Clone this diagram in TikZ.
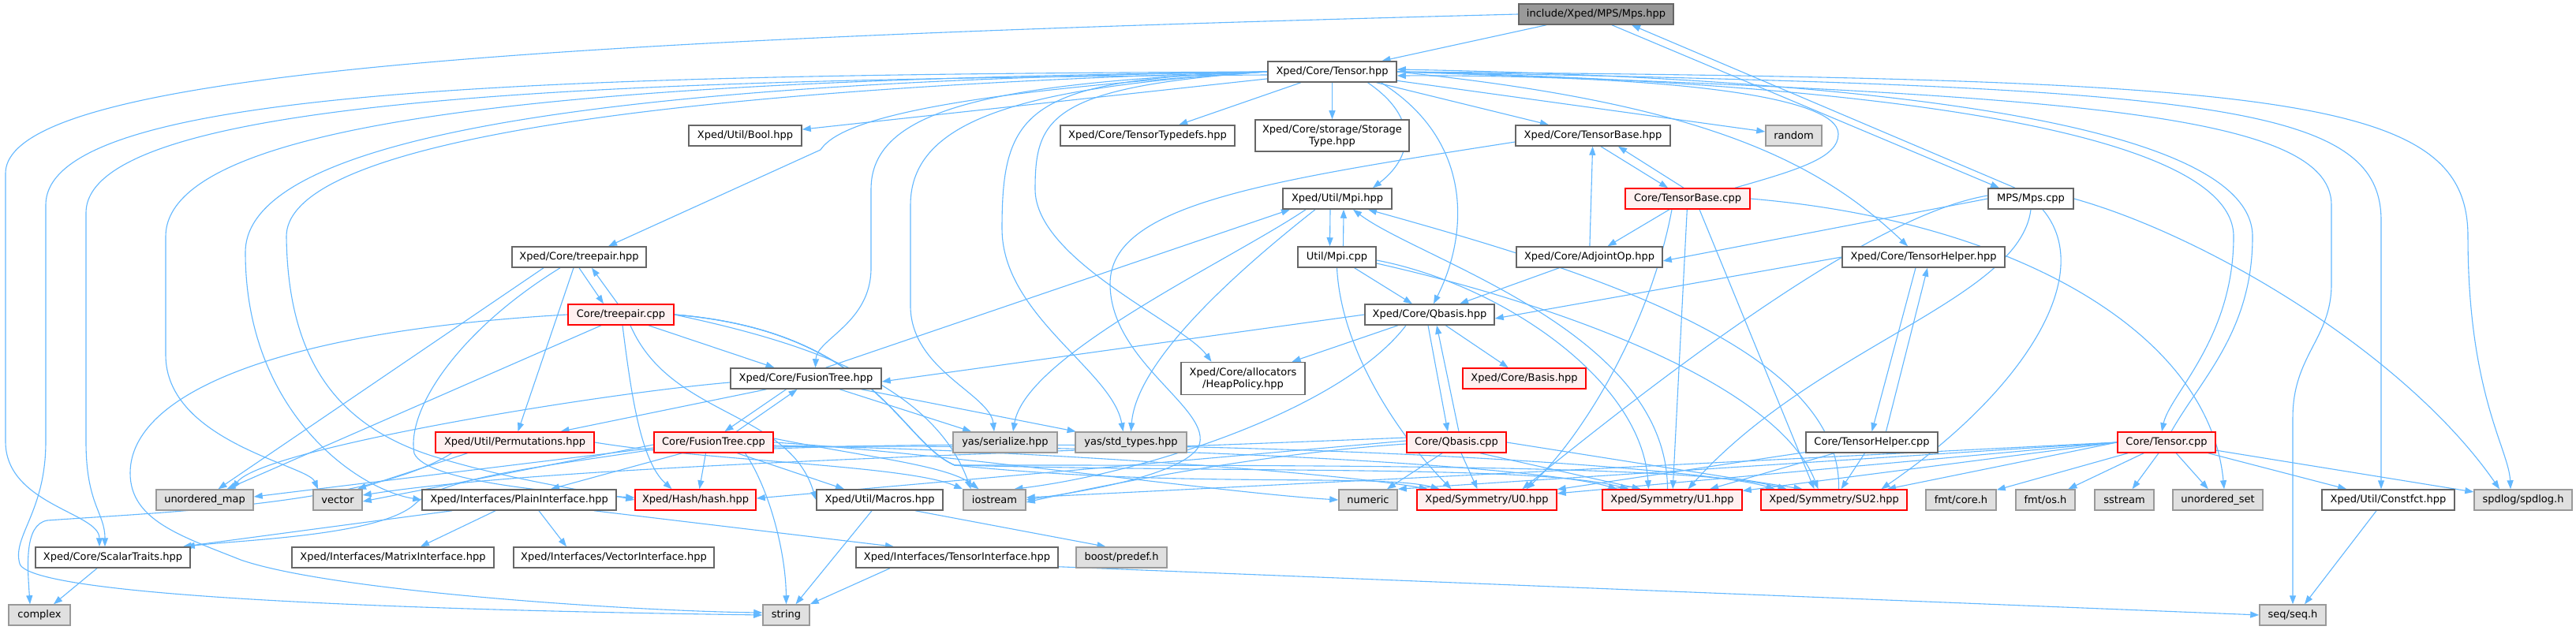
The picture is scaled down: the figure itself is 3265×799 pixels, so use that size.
\documentclass[tikz,border=0pt]{standalone}
\usepackage{fontspec}
\setmainfont{DejaVu Sans}
\usetikzlibrary{arrows.meta,backgrounds}
\definecolor{edgeblue}{HTML}{63B8FF}
\definecolor{boxline}{HTML}{666666}
\definecolor{sysline}{HTML}{999999}
\definecolor{sysfill}{HTML}{E0E0E0}
\definecolor{rootfill}{HTML}{999999}
\definecolor{redfill}{HTML}{FFF0F0}
\begin{document}
\begin{tikzpicture}[x=1pt,y=-1pt,font=\fontsize{13}{15}\selectfont,
  file/.style={draw=boxline,line width=1.5pt,fill=white,text=black,minimum height=26pt,inner sep=2pt},
  root/.style={file,fill=rootfill},
  sys/.style={file,draw=sysline,fill=sysfill},
  trunc/.style={file,draw=red,fill=redfill},
  dep/.style={draw=edgeblue,line width=1.1pt,-{Triangle[length=11pt,width=8pt]}}]
\useasboundingbox (0,0) rectangle (3265,799);
\node[root, minimum width=196pt] (mpsh) at (2023,18) {include/Xped/MPS/Mps.hpp};
\node[file, minimum width=163pt] (tensorh) at (1688.5,91) {Xped/Core/Tensor.hpp};
\node[file, minimum width=143pt] (boolh) at (944.5,172) {Xped/Util/Bool.hpp};
\node[file, minimum width=221pt] (typedefsh) at (1454.5,172) {Xped/Core/TensorTypedefs.hpp};
\node[file, minimum width=195pt, minimum height=40pt, align=center] (storageh) at (1688.5,172) {Xped/Core/storage/Storage\\Type.hpp};
\node[file, minimum width=196pt] (tbaseh) at (2019,172) {Xped/Core/TensorBase.hpp};
\node[sys, minimum width=71pt] (randomg) at (2273.5,172) {random};
\node[file, minimum width=138pt] (mpih) at (1695,252) {Xped/Util/Mpi.hpp};
\node[trunc, minimum width=158pt] (tbasecpp) at (2139,252) {Core/TensorBase.cpp};
\node[file, minimum width=108pt] (mpscpp) at (2574,252) {MPS/Mps.cpp};
\node[file, minimum width=170pt] (treepairh) at (734,326) {Xped/Core/treepair.hpp};
\node[file, minimum width=99pt] (mpicpp) at (1694.5,326) {Util/Mpi.cpp};
\node[file, minimum width=185pt] (adjointh) at (2014.5,326) {Xped/Core/AdjointOp.hpp};
\node[file, minimum width=206pt] (thelperh) at (2438,326) {Xped/Core/TensorHelper.hpp};
\node[trunc, minimum width=134pt] (treepaircpp) at (787,399) {Core/treepair.cpp};
\node[file, minimum width=164pt] (qbasish) at (1812,399) {Xped/Core/Qbasis.hpp};
\node[file, minimum width=191pt] (ftreeh) at (1021.5,480) {Xped/Core/FusionTree.hpp};
\node[file, minimum width=157pt, minimum height=41pt, align=center] (heaph) at (1575.5,480) {Xped/Core/allocators\\/HeapPolicy.hpp};
\node[trunc, minimum width=156pt] (basish) at (1932,480) {Xped/Core/Basis.hpp};
\node[trunc, minimum width=201pt] (permh) at (652.5,561) {Xped/Util/Permutations.hpp};
\node[trunc, minimum width=151pt] (ftreecpp) at (904.5,561) {Core/FusionTree.cpp};
\node[sys, minimum width=132pt] (serializeg) at (1274,561) {yas/serialize.hpp};
\node[sys, minimum width=141pt] (stdtypesg) at (1433.5,561) {yas/std\_types.hpp};
\node[trunc, minimum width=126pt] (qbasiscpp) at (1846,561) {Core/Qbasis.cpp};
\node[file, minimum width=167pt] (thelpercpp) at (2372.5,561) {Core/TensorHelper.cpp};
\node[trunc, minimum width=124pt] (tensorcpp) at (2746,561) {Core/Tensor.cpp};
\node[sys, minimum width=123pt] (umapg) at (259.5,634) {unordered\_map};
\node[sys, minimum width=62pt] (vectorg) at (428,634) {vector};
\node[file, minimum width=246pt] (plainh) at (658,634) {Xped/Interfaces/PlainInterface.hpp};
\node[trunc, minimum width=153pt] (hashh) at (881.5,634) {Xped/Hash/hash.hpp};
\node[file, minimum width=160pt] (macrosh) at (1115,634) {Xped/Util/Macros.hpp};
\node[sys, minimum width=79pt] (iostreamg) at (1260.5,634) {iostream};
\node[sys, minimum width=74pt] (numericg) at (1734,634) {numeric};
\node[trunc, minimum width=177pt] (u0h) at (1884.5,634) {Xped/Symmetry/U0.hpp};
\node[trunc, minimum width=177pt] (u1h) at (2119.5,634) {Xped/Symmetry/U1.hpp};
\node[trunc, minimum width=185pt] (su2h) at (2324.5,634) {Xped/Symmetry/SU2.hpp};
\node[sys, minimum width=89pt] (fmtcoreg) at (2485.5,634) {fmt/core.h};
\node[sys, minimum width=75pt] (fmtosg) at (2592.5,634) {fmt/os.h};
\node[sys, minimum width=75pt] (sstreamg) at (2692.5,634) {sstream};
\node[sys, minimum width=114pt] (usetg) at (2811,634) {unordered\_set};
\node[file, minimum width=168pt] (constfcth) at (3027,634) {Xped/Util/Constfct.hpp};
\node[sys, minimum width=124pt] (spdlogg) at (3198,634) {spdlog/spdlog.h};
\node[file, minimum width=196pt] (scalarh) at (143,707) {Xped/Core/ScalarTraits.hpp};
\node[file, minimum width=256pt] (matrixh) at (498,707) {Xped/Interfaces/MatrixInterface.hpp};
\node[file, minimum width=254pt] (vectorih) at (778,707) {Xped/Interfaces/VectorInterface.hpp};
\node[file, minimum width=256pt] (tinterfaceh) at (1213,707) {Xped/Interfaces/TensorInterface.hpp};
\node[sys, minimum width=115pt] (boostg) at (1421.5,707) {boost/predef.h};
\node[sys, minimum width=78pt] (complexg) at (50,780) {complex};
\node[sys, minimum width=59pt] (stringg) at (996.5,780) {string};
\node[sys, minimum width=84pt] (seqg) at (2906,780) {seq/seq.h};
\begin{scope}[on background layer]
\fill[white] (0,0) rectangle (3265,799);
\draw[dep] (mpsh) -- (tensorh);
\draw[dep] (mpsh.west) .. controls (700,50) and (7,90) .. (7,220) -- (7,560) .. controls (7,640) and (126,650) .. ([xshift=-17pt]scalarh.north);
\draw[dep] ([xshift=20pt]mpsh.south) -- ([xshift=-40pt]mpscpp.north);
\draw[dep] ([xshift=-20pt]mpscpp.north) -- ([xshift=45pt]mpsh.south);
\draw[dep] (tensorh.west) .. controls (700,95) and (58,110) .. (58,260) -- (58,560) .. controls (58,650) and (15,680) .. (25,715) .. controls (40,760) and (600,775) .. (stringg.west);
\draw[dep] ([yshift=-4pt]tensorh.west) .. controls (800,100) and (109,120) .. (109,270) -- (109,560) .. controls (109,640) and (133,650) .. ([xshift=-10pt]scalarh.north);
\draw[dep] (tensorh.west) .. controls (900,100) and (210,130) .. (210,300) -- (210,450) .. controls (210,560) and (390,590) .. ([xshift=-25pt]vectorg.north);
\draw[dep] (tensorh.west) .. controls (1000,100) and (311,140) .. (311,320) .. controls (311,520) and (450,620) .. (plainh.west);
\draw[dep] (tensorh.west) .. controls (1100,105) and (363,150) .. (363,300) .. controls (365,460) and (430,540) .. (547,578) .. controls (650,610) and (760,625) .. (hashh.west);
\draw[dep] (tensorh) -- (boolh);
\draw[dep] (tensorh) -- (typedefsh);
\draw[dep] (tensorh) -- (storageh);
\draw[dep] (tensorh) -- (tbaseh);
\draw[dep] (tensorh) -- (randomg);
\draw[dep] (tensorh.east) .. controls (2150,130) and (2300,200) .. ([xshift=-20pt]thelperh.north);
\draw[dep] ([xshift=45pt]tensorh.south) .. controls (1800,150) and (1790,200) .. ([xshift=45pt]mpih.north);
\draw[dep] ([xshift=62pt]tensorh.south) .. controls (1870,180) and (1860,300) .. ([xshift=5pt]qbasish.north);
\draw[dep] (tensorh.west) .. controls (1150,120) and (1060,160) .. (1040,190) -- ([xshift=37pt]treepairh.north);
\draw[dep] (tensorh.west) .. controls (1250,105) and (1104,140) .. (1104,240) -- (1104,340) .. controls (1104,410) and (1035,430) .. ([xshift=12pt]ftreeh.north);
\draw[dep] (tensorh.west) .. controls (1300,110) and (1154,150) .. (1154,260) -- (1154,390) .. controls (1156,470) and (1255,500) .. ([xshift=-14pt]serializeg.north);
\draw[dep] (tensorh.west) .. controls (1300,100) and (1270,140) .. (1270,290) .. controls (1270,400) and (1410,470) .. ([xshift=-10pt]stdtypesg.north);
\draw[dep] (tensorh.west) .. controls (1330,110) and (1312,150) .. (1312,240) .. controls (1312,330) and (1500,410) .. ([xshift=-40pt]heaph.north);
\draw[dep] (tensorh.east) .. controls (2400,105) and (2831,170) .. (2831,300) .. controls (2831,430) and (2750,500) .. ([xshift=-6pt]tensorcpp.north);
\draw[dep] ([xshift=6pt]tensorcpp.north) .. controls (2790,480) and (2855,420) .. (2855,300) .. controls (2855,160) and (2400,100) .. ([yshift=3pt]tensorh.east);
\draw[dep] (tensorh.east) .. controls (2600,120) and (2955,140) .. (2955,260) -- (2955,360) .. controls (2955,430) and (2906,450) .. (2906,530) -- (seqg.north);
\draw[dep] (tensorh.east) .. controls (2800,110) and (3018,130) .. (3018,280) -- ([xshift=-9pt]constfcth.north);
\draw[dep] (tensorh.east) .. controls (2900,100) and (3128,120) .. (3128,300) .. controls (3128,500) and (3180,570) .. ([xshift=-16pt]spdlogg.north);
\draw[dep] ([xshift=10pt]tbaseh.south) -- ([xshift=-25pt]tbasecpp.north);
\draw[dep] ([xshift=-5pt]tbasecpp.north) -- ([xshift=32pt]tbaseh.south);
\draw[dep] ([xshift=60pt]tbasecpp.north) .. controls (2280,215) and (2330,200) .. (2330,170) .. controls (2330,120) and (2100,95) .. ([yshift=-5pt]tensorh.east);
\draw[dep] (tbasecpp) -- (adjointh);
\draw[dep] (adjointh) -- (tbaseh);
\draw[dep] (adjointh) -- (qbasish);
\draw[dep] ([yshift=-8pt]tbaseh.west) .. controls (1600,230) and (1407,260) .. (1407,360) .. controls (1407,460) and (1540,520) .. (1519,567) .. controls (1495,605) and (1360,625) .. (iostreamg.east);
\draw[dep] ([xshift=-20pt]tbasecpp.south) .. controls (2090,420) and (2000,560) .. ([xshift=50pt]u0h.north);
\draw[dep] (tbasecpp) -- (u1h);
\draw[dep] ([xshift=15pt]tbasecpp.south) -- ([xshift=-25pt]su2h.north);
\draw[dep] (tbasecpp.east) .. controls (2550,280) and (2800,420) .. ([xshift=8pt]usetg.north);
\draw[dep] (mpscpp.west) -- ([yshift=-5pt]adjointh.east);
\draw[dep] ([yshift=4pt]mpscpp.west) .. controls (2420,265) and (2250,360) .. ([xshift=45pt]u0h.north);
\draw[dep] (mpscpp.south) .. controls (2560,380) and (2300,440) .. ([xshift=20pt]u1h.north);
\draw[dep] ([xshift=15pt]mpscpp.south) .. controls (2660,350) and (2560,500) .. ([xshift=60pt]su2h.north);
\draw[dep] (mpscpp.east) .. controls (2800,300) and (3050,450) .. ([xshift=-30pt]spdlogg.north);
\draw[dep] ([xshift=-10pt]thelperh.south) -- (thelpercpp.north);
\draw[dep] ([xshift=18pt]thelpercpp.north) -- ([xshift=5pt]thelperh.south);
\draw[dep] (thelperh.west) -- ([yshift=-5pt]qbasish.east);
\draw[dep] (thelpercpp) -- (u0h);
\draw[dep] (thelpercpp) -- (u1h);
\draw[dep] (thelpercpp) -- (su2h);
\draw[dep] ([xshift=-9pt]mpih.south) -- ([xshift=-9pt]mpicpp.north);
\draw[dep] ([xshift=8pt]mpicpp.north) -- ([xshift=8pt]mpih.south);
\draw[dep] ([xshift=-40pt]mpih.south) .. controls (1560,330) and (1300,450) .. ([xshift=10pt]serializeg.north);
\draw[dep] ([xshift=-28pt]mpih.south) .. controls (1560,350) and (1440,460) .. (stdtypesg.north);
\draw[dep] (mpicpp) -- (qbasish);
\draw[dep] (mpicpp.south) .. controls (1700,450) and (1780,560) .. ([xshift=-45pt]u0h.north);
\draw[dep] ([yshift=-4pt]mpicpp.east) .. controls (1900,360) and (2080,480) .. ([xshift=-30pt]u1h.north);
\draw[dep] ([yshift=-8pt]mpicpp.east) .. controls (1950,380) and (2250,480) .. ([xshift=-20pt]su2h.north);
\draw[dep] ([xshift=-6pt]u1h.north) .. controls (2113,420) and (1800,330) .. ([xshift=20pt]mpih.south);
\draw[dep] ([xshift=6pt]su2h.north) .. controls (2335,440) and (2000,340) .. ([xshift=39pt]mpih.south);
\draw[dep] ([xshift=-45pt]treepairh.south) -- ([xshift=17pt]umapg.north);
\draw[dep] ([xshift=-24pt]treepairh.south) .. controls (580,420) and (515,520) .. (525,575) .. controls (540,610) and (700,625) .. ([yshift=3pt]hashh.west);
\draw[dep] ([xshift=-7pt]treepairh.south) -- ([xshift=4pt]permh.north);
\draw[dep] (treepairh.south) -- ([xshift=-22pt]treepaircpp.north);
\draw[dep] ([xshift=-4pt]treepaircpp.north) -- ([xshift=16pt]treepairh.south);
\draw[dep] (treepaircpp.west) .. controls (350,420) and (165,500) .. (165,600) .. controls (165,660) and (230,680) .. (305,710) .. controls (420,750) and (800,775) .. ([yshift=3pt]stringg.west);
\draw[dep] ([xshift=-25pt]treepaircpp.south) -- ([xshift=28pt]umapg.north);
\draw[dep] ([xshift=35pt]treepaircpp.south) -- ([xshift=-40pt]ftreeh.north);
\draw[dep] ([xshift=2pt]treepaircpp.south) .. controls (800,500) and (812,585) .. ([xshift=-30pt]hashh.north);
\draw[dep] ([xshift=12pt]treepaircpp.south) .. controls (850,530) and (1000,520) .. (macrosh.west);
\draw[dep] (treepaircpp.east) .. controls (1000,430) and (1180,480) .. ([xshift=-30pt]iostreamg.north);
\draw[dep] (treepaircpp.east) .. controls (1110,420) and (1140,560) .. (1210,590) .. controls (1500,620) and (1750,600) .. ([xshift=-60pt]u0h.north);
\draw[dep] (treepaircpp.east) .. controls (1110,420) and (1140,560) .. (1210,590) .. controls (1600,600) and (1950,590) .. ([xshift=-55pt]u1h.north);
\draw[dep] (treepaircpp.east) .. controls (1110,420) and (1140,560) .. (1210,590) .. controls (1700,590) and (2150,590) .. ([xshift=-60pt]su2h.north);
\draw[dep] ([xshift=-25pt]ftreeh.south) -- ([xshift=14pt]ftreecpp.north);
\draw[dep] ([xshift=29pt]ftreecpp.north) -- ([xshift=-11pt]ftreeh.south);
\draw[dep] ([xshift=-50pt]ftreeh.south) -- ([xshift=58pt]permh.north);
\draw[dep] ([yshift=-5pt]ftreeh.west) .. controls (750,500) and (330,570) .. ([xshift=35pt]umapg.north);
\draw[dep] (ftreeh) -- (serializeg);
\draw[dep] (ftreeh) -- (stdtypesg);
\draw[dep] ([xshift=25pt]ftreeh.north) -- ([xshift=-60pt]mpih.south);
\draw[dep] ([xshift=40pt]ftreecpp.south) .. controls (975,620) and (996,700) .. (stringg.north);
\draw[dep] ([xshift=-10pt]ftreecpp.south) -- ([xshift=5pt]hashh.north);
\draw[dep] ([xshift=30pt]ftreecpp.south) -- ([xshift=-45pt]macrosh.north);
\draw[dep] ([xshift=-40pt]ftreecpp.south) -- ([xshift=40pt]plainh.north);
\draw[dep] ([yshift=-3pt]ftreecpp.west) -- ([yshift=-2pt]vectorg.east);
\draw[dep] ([yshift=-7pt]ftreecpp.west) -- ([yshift=4pt]umapg.east);
\draw[dep] ([yshift=-9pt]ftreecpp.west) .. controls (700,590) and (560,605) .. (525,640) .. controls (480,680) and (300,685) .. ([xshift=-6pt]scalarh.north east);
\draw[dep] ([yshift=5pt]ftreecpp.east) .. controls (1100,580) and (1200,590) .. ([xshift=-20pt]iostreamg.north);
\draw[dep] (ftreecpp.east) .. controls (1200,575) and (1550,625) .. (numericg.west);
\draw[dep] ([yshift=-4pt]ftreecpp.east) .. controls (1300,570) and (1700,600) .. ([xshift=-75pt]u0h.north);
\draw[dep] ([yshift=-6pt]ftreecpp.east) .. controls (1400,560) and (1950,590) .. ([xshift=-70pt]u1h.north);
\draw[dep] ([yshift=-8pt]ftreecpp.east) .. controls (1500,550) and (2150,590) .. ([xshift=-75pt]su2h.north);
\draw[dep] ([xshift=-60pt]permh.south) -- ([xshift=25pt]vectorg.north);
\draw[dep] ([xshift=-80pt]permh.south) .. controls (470,640) and (200,650) .. (60,660) .. controls (30,665) and (35,720) .. ([xshift=-12pt]complexg.north);
\draw[dep] (permh.east) .. controls (900,585) and (1150,590) .. (iostreamg.north west);
\draw[dep] (qbasish.west) -- ([yshift=-4pt]ftreeh.east);
\draw[dep] (qbasish) -- (heaph);
\draw[dep] (qbasish) -- (basish);
\draw[dep] ([xshift=-2pt]qbasish.south) -- ([xshift=-11pt]qbasiscpp.north);
\draw[dep] ([xshift=3pt]qbasiscpp.north) -- ([xshift=9pt]qbasish.south);
\draw[dep] ([xshift=-30pt]qbasish.south) .. controls (1700,520) and (1450,600) .. ([xshift=25pt]iostreamg.north);
\draw[dep] ([xshift=-18pt]qbasiscpp.south) -- ([xshift=24pt]numericg.north);
\draw[dep] ([xshift=6pt]qbasiscpp.south) -- ([xshift=-12pt]u0h.north);
\draw[dep] ([xshift=30pt]qbasiscpp.south) -- ([xshift=-40pt]u1h.north);
\draw[dep] (qbasiscpp.east) -- ([xshift=-40pt]su2h.north);
\draw[dep] ([yshift=2pt]qbasiscpp.west) -- ([yshift=2pt]hashh.east);
\draw[dep] ([yshift=6pt]qbasiscpp.west) .. controls (1300,575) and (700,590) .. ([yshift=6pt]vectorg.east);
\draw[dep] ([yshift=-2pt]qbasiscpp.west) .. controls (1600,575) and (1400,615) .. ([yshift=-3pt]iostreamg.east);
\draw[dep] (tensorcpp) -- (fmtcoreg);
\draw[dep] (tensorcpp) -- (fmtosg);
\draw[dep] (tensorcpp) -- (sstreamg);
\draw[dep] (tensorcpp) -- (usetg);
\draw[dep] (tensorcpp) -- (constfcth);
\draw[dep] (tensorcpp) -- (spdlogg);
\draw[dep] (tensorcpp.west) -- (su2h);
\draw[dep] (tensorcpp.west) -- (u1h);
\draw[dep] (tensorcpp.west) -- (u0h);
\draw[dep] (tensorcpp.west) -- (numericg.north east);
\draw[dep] (tensorcpp.west) -- ([yshift=3pt]iostreamg.east);
\draw[dep] ([xshift=-85pt]plainh.south) -- ([xshift=-10pt]scalarh.north east);
\draw[dep] ([xshift=-30pt]plainh.south) -- ([xshift=35pt]matrixh.north);
\draw[dep] ([xshift=25pt]plainh.south) -- ([xshift=-60pt]vectorih.north);
\draw[dep] ([xshift=95pt]plainh.south) -- ([xshift=-80pt]tinterfaceh.north);
\draw[dep] ([xshift=-10pt]macrosh.south) -- ([xshift=12pt]stringg.north);
\draw[dep] ([xshift=45pt]macrosh.south) -- ([xshift=-20pt]boostg.north);
\draw[dep] ([xshift=-85pt]tinterfaceh.south) -- (stringg.north east);
\draw[dep] ([yshift=2pt]tinterfaceh.south east) -- (seqg.west);
\draw[dep] ([xshift=-15pt]constfcth.south) -- ([xshift=15pt]seqg.north);
\draw[dep] ([xshift=-20pt]scalarh.south) -- ([xshift=18pt]complexg.north);
\end{scope}
\end{tikzpicture}
\end{document}
